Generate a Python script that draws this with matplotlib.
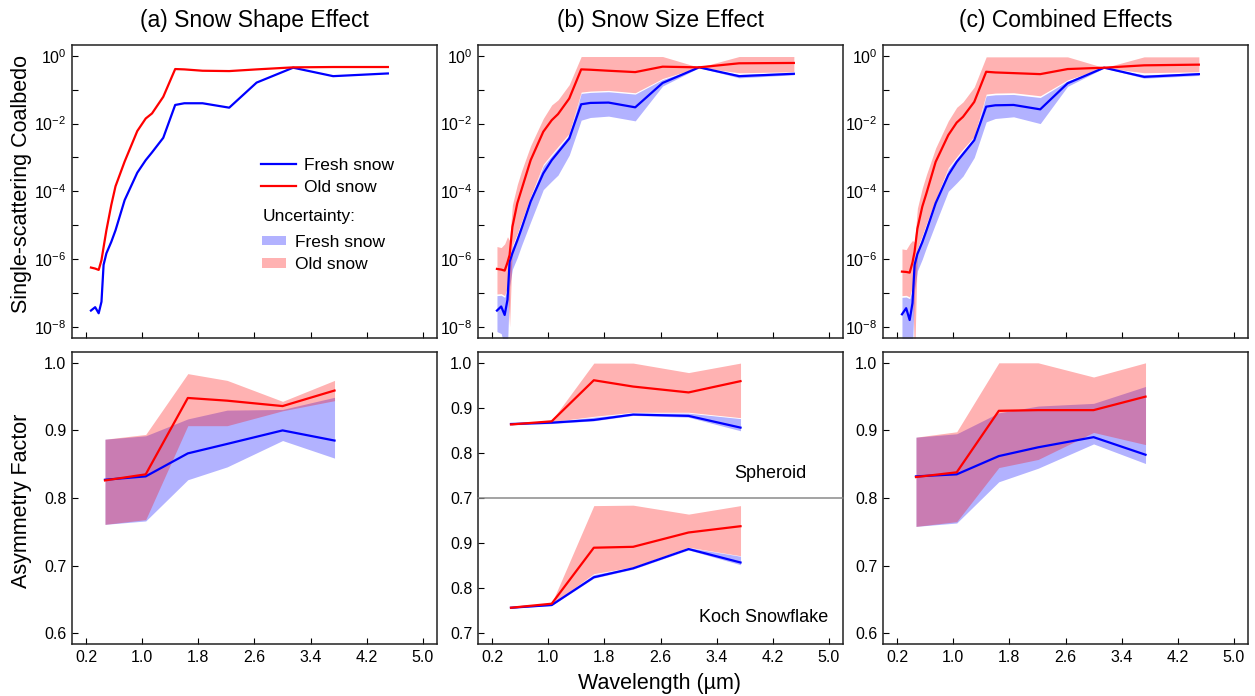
import matplotlib
matplotlib.use("Agg")
import matplotlib.pyplot as plt
from matplotlib.lines import Line2D
from matplotlib.patches import Patch
import numpy as np

plt.rcParams['font.family'] = ['Liberation Sans', 'DejaVu Sans']
plt.rcParams['mathtext.fontset'] = 'custom'
plt.rcParams['mathtext.rm'] = 'Liberation Sans'
plt.rcParams['mathtext.default'] = 'regular'

BLUE = '#0000ff'
RED = '#ff0000'

# ---- single-scattering coalbedo, stored as log10 values ----
wl = [0.27, 0.33, 0.38, 0.42, 0.45, 0.49, 0.56, 0.62, 0.75, 0.93, 1.05,
      1.14, 1.30, 1.47, 1.60, 1.86, 2.24, 2.63, 3.15, 3.72, 4.50]

# (a) shape effect
fresh_a = [-7.52, -7.42, -7.60, -7.26, -6.17, -5.83, -5.49, -5.15, -4.26, -3.45, -3.08,
           -2.85, -2.42, -1.45, -1.40, -1.40, -1.53, -0.79, -0.35, -0.60, -0.52]
old_a = [-6.25, -6.28, -6.32, -6.03, -5.65, -5.15, -4.40, -3.85, -3.12, -2.22, -1.85,
         -1.70, -1.21, -0.39, -0.40, -0.44, -0.45, -0.40, -0.34, -0.33, -0.33]

# (b) size effect
fresh_b = [-7.52, -7.40, -7.65, -7.20, -6.08, -5.83, -5.45, -5.10, -4.30, -3.47, -3.08,
           -2.85, -2.44, -1.43, -1.39, -1.38, -1.52, -0.80, -0.34, -0.60, -0.53]
fresh_b_hi = [-7.08, -7.07, -7.13, -6.90, -5.95, -5.65, -5.30, -4.95, -4.20, -3.25, -2.95,
              -2.73, -2.34, -1.11, -1.08, -1.06, -1.13, -0.70, -0.34, -0.55, -0.49]
fresh_b_lo = [-8.14, -8.20, -8.60, -8.60, -6.80, -6.30, -5.95, -5.60, -4.90, -3.95, -3.70,
              -3.52, -2.93, -1.90, -1.82, -1.78, -1.92, -0.89, -0.35, -0.65, -0.56]
old_b = [-6.29, -6.31, -6.34, -6.10, -5.88, -5.05, -4.35, -3.95, -3.08, -2.24, -1.90,
         -1.72, -1.26, -0.40, -0.41, -0.44, -0.48, -0.32, -0.34, -0.22, -0.21]
old_b_hi = [-5.63, -5.66, -5.55, -5.34, -5.45, -4.40, -3.80, -3.40, -2.65, -1.85, -1.45,
            -1.30, -0.85, -0.02, -0.02, -0.02, -0.02, -0.02, -0.34, -0.02, -0.02]
old_b_lo = [-7.03, -7.02, -7.08, -6.80, -8.00, -5.60, -5.25, -4.90, -4.15, -3.20, -2.90,
            -2.68, -2.29, -1.07, -1.04, -1.02, -1.09, -0.67, -0.34, -0.50, -0.47]

# (c) combined effects
fresh_c = [-7.63, -7.45, -7.80, -7.30, -6.17, -5.85, -5.50, -5.15, -4.35, -3.52, -3.13,
           -2.90, -2.49, -1.50, -1.46, -1.45, -1.58, -0.81, -0.35, -0.62, -0.54]
fresh_c_hi = [-7.13, -7.12, -7.17, -6.90, -6.00, -5.75, -5.35, -5.00, -4.30, -3.35, -3.03,
              -2.80, -2.43, -1.18, -1.15, -1.14, -1.23, -0.74, -0.35, -0.56, -0.50]
fresh_c_lo = [-8.60, -8.60, -8.60, -8.60, -6.90, -6.35, -6.00, -5.65, -4.95, -4.00, -3.75,
              -3.55, -3.00, -1.95, -1.85, -1.80, -2.00, -0.90, -0.36, -0.66, -0.58]
old_c = [-6.37, -6.38, -6.40, -6.10, -5.78, -5.10, -4.45, -4.05, -3.13, -2.34, -1.97,
         -1.80, -1.36, -0.47, -0.49, -0.51, -0.54, -0.39, -0.35, -0.28, -0.26]
old_c_hi = [-5.70, -5.72, -5.55, -5.45, -5.50, -4.50, -3.90, -3.50, -2.72, -1.92, -1.52,
            -1.36, -0.92, -0.03, -0.03, -0.03, -0.03, -0.03, -0.35, -0.03, -0.03]
old_c_lo = [-7.08, -7.07, -7.12, -6.80, -9.00, -5.70, -5.30, -4.95, -4.25, -3.30, -2.98,
            -2.75, -2.38, -1.13, -1.10, -1.09, -1.18, -0.71, -0.35, -0.50, -0.47]

# ---- asymmetry factor ----
wl_g = [0.47, 1.05, 1.65, 2.21, 3.00, 3.74]

g_fresh_a = [0.827, 0.832, 0.866, 0.880, 0.900, 0.885]
g_fresh_a_hi = [0.887, 0.892, 0.917, 0.930, 0.931, 0.949]
g_fresh_a_lo = [0.761, 0.766, 0.827, 0.846, 0.885, 0.859]
g_old_a = [0.826, 0.835, 0.948, 0.944, 0.936, 0.959]
g_old_a_hi = [0.887, 0.894, 0.984, 0.974, 0.943, 0.974]
g_old_a_lo = [0.761, 0.768, 0.907, 0.907, 0.929, 0.944]

g_fresh_sph = [0.864, 0.867, 0.873, 0.885, 0.882, 0.856]
g_fresh_sph_hi = [0.866, 0.869, 0.879, 0.888, 0.888, 0.876]
g_fresh_sph_lo = [0.862, 0.865, 0.871, 0.883, 0.879, 0.849]
g_old_sph = [0.863, 0.870, 0.961, 0.947, 0.934, 0.959]
g_old_sph_hi = [0.865, 0.872, 0.999, 0.999, 0.978, 0.999]
g_old_sph_lo = [0.862, 0.869, 0.881, 0.890, 0.890, 0.878]

g_fresh_koch = [0.756, 0.762, 0.824, 0.844, 0.887, 0.857]
g_fresh_koch_hi = [0.757, 0.764, 0.830, 0.846, 0.890, 0.871]
g_fresh_koch_lo = [0.755, 0.761, 0.822, 0.842, 0.885, 0.852]
g_old_koch = [0.756, 0.765, 0.890, 0.892, 0.924, 0.938]
g_old_koch_hi = [0.757, 0.766, 0.984, 0.985, 0.965, 0.984]
g_old_koch_lo = [0.755, 0.763, 0.832, 0.847, 0.891, 0.872]

g_fresh_c = [0.832, 0.835, 0.862, 0.875, 0.890, 0.864]
g_fresh_c_hi = [0.890, 0.895, 0.926, 0.936, 0.940, 0.965]
g_fresh_c_lo = [0.758, 0.763, 0.824, 0.844, 0.880, 0.851]
g_old_c = [0.831, 0.838, 0.929, 0.930, 0.930, 0.950]
g_old_c_hi = [0.890, 0.898, 1.000, 1.000, 0.979, 1.000]
g_old_c_lo = [0.758, 0.765, 0.845, 0.857, 0.897, 0.879]

titles = ['(a) Snow Shape Effect', '(b) Snow Size Effect', '(c) Combined Effects']
xticks = [0.2, 1.0, 1.8, 2.6, 3.4, 4.2, 5.0]

W, H = 1255, 696
fig = plt.figure(figsize=(W / 100, H / 100), dpi=100)


def px_axes(left, top, width, height):
    return fig.add_axes([left / W, 1 - (top + height) / H, width / W, height / H])


def style(ax, xlabels):
    ax.set_xlim(0, 5.2)
    ax.set_xticks(xticks)
    if xlabels:
        ax.set_xticklabels(['%.1f' % t for t in xticks])
    else:
        ax.set_xticklabels([])
    ax.tick_params(direction='in', length=4, width=0.8, labelsize=11.5, pad=4)
    ax.minorticks_off()
    for s in ax.spines.values():
        s.set_color('#222222')
        s.set_linewidth(1.1)


def coalb(ax, f, o, f_hi=None, f_lo=None, o_hi=None, o_lo=None):
    lw_ = np.array(wl)
    if f_hi is not None:
        ax.fill_between(lw_, 10 ** np.array(f_lo), 10 ** np.array(f_hi),
                        color=BLUE, alpha=0.3, lw=0)
        ax.fill_between(lw_, 10 ** np.array(o_lo), 10 ** np.array(o_hi),
                        color=RED, alpha=0.3, lw=0)
    ax.plot(lw_, 10 ** np.array(f), color=BLUE, lw=1.6)
    ax.plot(lw_, 10 ** np.array(o), color=RED, lw=1.6)
    ax.set_yscale('log')
    ax.set_ylim(10 ** -8.33, 10 ** 0.32)
    ax.set_yticks([10.0 ** k for k in range(-8, 1)])
    ax.set_yticklabels(['$10^{%d}$' % k if k % 2 == 0 else '' for k in range(-8, 1)])
    style(ax, False)
    ax.minorticks_off()


def asym(ax, f, f_hi, f_lo, o, o_hi, o_lo):
    ax.fill_between(wl_g, f_lo, f_hi, color=BLUE, alpha=0.3, lw=0)
    ax.fill_between(wl_g, o_lo, o_hi, color=RED, alpha=0.3, lw=0)
    ax.plot(wl_g, f, color=BLUE, lw=1.6)
    ax.plot(wl_g, o, color=RED, lw=1.6)


lefts = [72, 478, 883]
colw = 365

# top row
ax_a = px_axes(lefts[0], 45, colw, 293)
coalb(ax_a, fresh_a, old_a)
ax_b = px_axes(lefts[1], 45, colw, 293)
coalb(ax_b, fresh_b, old_b, fresh_b_hi, fresh_b_lo, old_b_hi, old_b_lo)
ax_c = px_axes(lefts[2], 45, colw, 293)
coalb(ax_c, fresh_c, old_c, fresh_c_hi, fresh_c_lo, old_c_hi, old_c_lo)

for x0, t in zip(lefts, titles):
    fig.text((x0 + colw / 2) / W, 1 - 21 / H, t, ha='center', va='center', fontsize=16.5)

# legends in panel (a)
h1 = [Line2D([], [], color=BLUE, lw=1.6), Line2D([], [], color=RED, lw=1.6)]
leg1 = ax_a.legend(h1, ['Fresh snow', 'Old snow'], loc='upper left',
                   bbox_to_anchor=(0.518, 0.616), frameon=False, fontsize=12.5,
                   borderpad=0, borderaxespad=0, handlelength=2.0, handletextpad=0.5,
                   labelspacing=0.41)
ax_a.add_artist(leg1)
ax_a.text(0.521, 0.414, 'Uncertainty:', transform=ax_a.transAxes,
          ha='left', va='center', fontsize=12.5)
h2 = [Patch(facecolor=BLUE, alpha=0.3, lw=0), Patch(facecolor=RED, alpha=0.3, lw=0)]
leg2 = ax_a.legend(h2, ['Fresh snow', 'Old snow'], loc='upper left',
                   bbox_to_anchor=(0.52, 0.352), frameon=False, fontsize=12.5,
                   borderpad=0, borderaxespad=0, handlelength=1.4, handleheight=0.45,
                   handletextpad=0.5, labelspacing=0.42)

# bottom row
ax_d = px_axes(lefts[0], 352, colw, 292)
asym(ax_d, g_fresh_a, g_fresh_a_hi, g_fresh_a_lo, g_old_a, g_old_a_hi, g_old_a_lo)
ax_f = px_axes(lefts[2], 352, colw, 292)
asym(ax_f, g_fresh_c, g_fresh_c_hi, g_fresh_c_lo, g_old_c, g_old_c_hi, g_old_c_lo)
for ax in (ax_d, ax_f):
    ax.set_ylim(0.584, 1.016)
    ax.set_yticks([0.6, 0.7, 0.8, 0.9, 1.0])
    ax.set_yticklabels(['0.6', '0.7', '0.8', '0.9', '1.0'])
    style(ax, True)

# (b) bottom: spheroid over Koch snowflake, sharing one frame
ax_e2 = px_axes(lefts[1], 498, colw, 146)
asym(ax_e2, g_fresh_koch, g_fresh_koch_hi, g_fresh_koch_lo, g_old_koch, g_old_koch_hi, g_old_koch_lo)
ax_e2.set_ylim(0.675, 1.001)
ax_e2.set_yticks([0.7, 0.8, 0.9])
ax_e2.set_yticklabels(['0.7', '0.8', '0.9'])
style(ax_e2, True)
ax_e2.spines['top'].set_visible(False)
ax_e2.text(0.96, 0.18, 'Koch Snowflake', transform=ax_e2.transAxes, ha='right', va='center', fontsize=13)

ax_e1 = px_axes(lefts[1], 352, colw, 146)
ax_e1.patch.set_alpha(0)
asym(ax_e1, g_fresh_sph, g_fresh_sph_hi, g_fresh_sph_lo, g_old_sph, g_old_sph_hi, g_old_sph_lo)
ax_e1.set_ylim(0.7, 1.0236)
ax_e1.set_yticks([0.7, 0.8, 0.9, 1.0])
ax_e1.set_yticklabels(['0.7', '0.8', '0.9', '1.0'])
style(ax_e1, False)
ax_e1.tick_params(axis='x', length=0)
ax_e1.spines['bottom'].set_color('#8a8a8a')
ax_e1.spines['bottom'].set_linewidth(1.1)
ax_e1.text(0.90, 0.17, 'Spheroid', transform=ax_e1.transAxes, ha='right', va='center', fontsize=13)

fig.text(22 / W, 1 - 184 / H, 'Single-scattering Coalbedo', rotation=90,
         ha='center', va='center', fontsize=15.5)
fig.text(22 / W, 1 - 501 / H, 'Asymmetry Factor', rotation=90,
         ha='center', va='center', fontsize=15.5)
fig.text(660 / W, 1 - 683 / H, 'Wavelength (\u00b5m)', ha='center', va='center', fontsize=15.5)

fig.savefig('out.png', dpi=100)
